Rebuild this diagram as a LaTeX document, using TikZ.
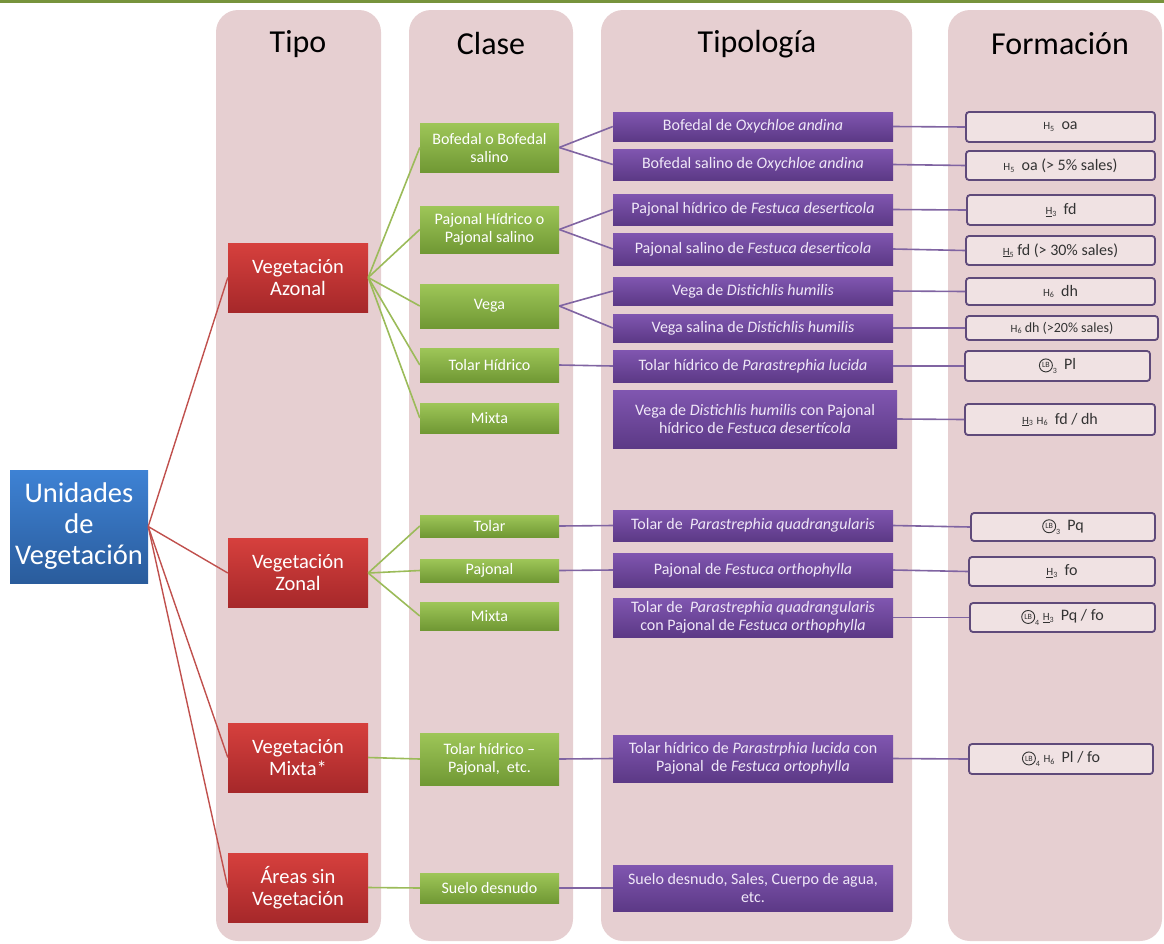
\documentclass[tikz,border=0pt]{standalone}
\usepackage{fontspec}
\setmainfont{Carlito}

\definecolor{rosa}{RGB}{230,207,209}
\definecolor{verdelinea}{RGB}{119,147,60}
\definecolor{azularriba}{RGB}{62,130,212}
\definecolor{azulabajo}{RGB}{42,92,156}
\definecolor{rojoarriba}{RGB}{214,64,61}
\definecolor{rojoabajo}{RGB}{166,40,42}
\definecolor{verdearriba}{RGB}{158,198,88}
\definecolor{verdeabajo}{RGB}{112,152,52}
\definecolor{moradoarriba}{RGB}{128,86,176}
\definecolor{moradoabajo}{RGB}{92,57,134}
\definecolor{lineaRoja}{RGB}{192,80,77}
\definecolor{lineaVerde}{RGB}{155,187,89}
\definecolor{lineaMorada}{RGB}{128,100,162}
\definecolor{bordeForm}{RGB}{95,74,122}
\definecolor{textoForm}{RGB}{51,51,51}
\definecolor{textoMorado}{RGB}{240,232,248}

% simbolos de formacion
\newcommand{\hsym}[1]{{\fontsize{11}{11}\selectfont H\raisebox{-0.35ex}{\fontsize{8}{8}\selectfont #1}}}
\newcommand{\hsub}[1]{{\fontsize{11}{11}\selectfont \underline{H}\raisebox{-0.35ex}{\fontsize{8}{8}\selectfont #1}}}
\newcommand{\lbsym}[1]{\tikz[baseline=-0.5ex]\node[circle, draw=textoForm, fill=none, line width=0.9pt, rounded corners=0pt, minimum width=13pt, minimum height=13pt, inner sep=0pt, font=\fontsize{8}{8}\selectfont]{LB};\raisebox{-0.6ex}{\fontsize{8}{8}\selectfont #1}}

\begin{document}
\begin{tikzpicture}[x=1pt,y=-1pt]

  % Estilos de las cajas
  \tikzstyle{columna} = [fill=rosa, rounded corners=22pt]
  \tikzstyle{titulo} = [font=\fontsize{32}{36}\selectfont, text=black]
  \tikzstyle{raiz} = [top color=azularriba, bottom color=azulabajo, text=white, align=center, font=\fontsize{28.5}{31}\selectfont, minimum width=138pt, minimum height=113pt, inner sep=2pt]
  \tikzstyle{tipo} = [top color=rojoarriba, bottom color=rojoabajo, text=white, align=center, font=\fontsize{20.5}{22}\selectfont, minimum width=140pt, minimum height=69pt, inner sep=2pt]
  \tikzstyle{clase} = [top color=verdearriba, bottom color=verdeabajo, text=white, align=center, font=\fontsize{16}{18}\selectfont, minimum width=139pt, inner sep=1pt]
  \tikzstyle{tipologia} = [top color=moradoarriba, bottom color=moradoabajo, text=textoMorado, align=center, font=\fontsize{16}{18}\selectfont, minimum width=280pt, inner sep=1pt]
  \tikzstyle{formacion} = [draw=bordeForm, line width=1.8pt, fill=rosa!60!white, rounded corners=3pt, text=textoForm, align=center, font=\fontsize{16}{18}\selectfont, minimum width=189pt, inner sep=1pt]

  % Estilo de los conectores
  \tikzstyle{rojo} = [lineaRoja, line width=1.4pt]
  \tikzstyle{verde} = [lineaVerde, line width=1.6pt]
  \tikzstyle{morado} = [lineaMorada, line width=1.6pt]

  \useasboundingbox (0,0) rectangle (1164,943);

  % Linea superior
  \draw[line width=3, verdelinea] (0,1.5) -- (1164,1.5);

  % Columnas
  \fill[columna] (216,10) rectangle (381,941);
  \fill[columna] (409,10) rectangle (573,941);
  \fill[columna] (601,10) rectangle (912,941);
  \fill[columna] (948,10) rectangle (1162,941);

  \draw (298,44) node[titulo] (tTipo) {Tipo};
  \draw (491,44) node[titulo] (tClase) {Clase};
  \draw (757,44) node[titulo] (tTipologia) {Tipología};
  \draw (1060,44) node[titulo] (tFormacion) {Formación};

  % Raiz
  \draw (79,526.5) node[raiz] (unidades) {Unidades\\de\\Vegetación};

  % Tipo
  \draw (298,277.5) node[tipo] (azonal) {Vegetación\\Azonal};
  \draw (298,573) node[tipo] (zonal) {Vegetación\\Zonal};
  \draw (298,757.5) node[tipo] (mixta) {Vegetación\\Mixta*};
  \draw (298,887.5) node[tipo] (areas) {Áreas sin\\Vegetación};

  % Clase
  \draw (489.5,147.5) node[clase, minimum height=49pt] (bofedal) {Bofedal o Bofedal\\salino};
  \draw (489.5,229.5) node[clase, minimum height=47pt] (pajonalH) {Pajonal Hídrico o\\Pajonal salino};
  \draw (489.5,306) node[clase, minimum height=44pt] (vega) {Vega};
  \draw (489.5,365) node[clase, minimum height=34pt] (tolarH) {Tolar Hídrico};
  \draw (489.5,418) node[clase, minimum height=30pt] (mixtaA) {Mixta};
  \draw (489.5,526) node[clase, minimum height=22pt] (tolar) {Tolar};
  \draw (489.5,570.5) node[clase, minimum height=23pt] (pajonal) {Pajonal};
  \draw (489.5,616) node[clase, minimum height=28pt] (mixtaZ) {Mixta};
  \draw (489.5,759) node[clase, minimum height=52pt] (tolarHP) {Tolar hídrico --\\Pajonal,\ \ etc.};
  \draw (489.5,888) node[clase, minimum height=30pt] (suelo) {Suelo desnudo};

  % Tipologia
  \draw (753,126.5) node[tipologia, minimum height=29pt] (tBofedal) {Bofedal de \textit{Oxychloe andina}};
  \draw (753,164.5) node[tipologia, minimum height=31pt] (tBofedalS) {Bofedal salino de \textit{Oxychloe andina}};
  \draw (753,209.5) node[tipologia, minimum height=31pt] (tPajonalH) {Pajonal hídrico de \textit{Festuca deserticola}};
  \draw (753,249) node[tipologia, minimum height=32pt] (tPajonalS) {Pajonal salino de \textit{Festuca deserticola}};
  \draw (753,291) node[tipologia, minimum height=28pt] (tVega) {Vega de \textit{Distichlis humilis}};
  \draw (753,328) node[tipologia, minimum height=28pt] (tVegaS) {Vega salina de \textit{Distichlis humilis}};
  \draw (753,366) node[tipologia, minimum height=32pt] (tTolarH) {Tolar hídrico de \textit{Parastrephia lucida}};
  \draw (755,419) node[tipologia, minimum height=58pt, minimum width=284pt] (tMixtaA) {Vega de \textit{Distichlis humilis} con Pajonal\\hídrico de \textit{Festuca desertícola}};
  \draw (753,525.5) node[tipologia, minimum height=31pt] (tTolar) {Tolar de\ \ \textit{Parastrephia quadrangularis}};
  \draw (753,570) node[tipologia, minimum height=34pt] (tPajonal) {Pajonal de \textit{Festuca orthophylla}};
  \draw (753,617.5) node[tipologia, minimum height=39pt] (tMixtaZ) {Tolar de\ \ \textit{Parastrephia quadrangularis}\\con Pajonal de \textit{Festuca orthophylla}};
  \draw (753,758.5) node[tipologia, minimum height=47pt] (tTolarHP) {Tolar hídrico de \textit{Parastrphia lucida} con\\Pajonal\ \ de \textit{Festuca ortophylla}};
  \draw (753,888) node[tipologia, minimum height=46pt] (tSuelo) {Suelo desnudo, Sales, Cuerpo de agua,\\etc.};

  % Formacion
  \draw (1060.5,127) node[formacion, minimum height=30pt] (fBofedal) {\hsym{5}\ \ oa};
  \draw (1060.5,165.5) node[formacion, minimum height=29pt] (fBofedalS) {\hsym{5}\ \ oa (> 5\% sales)};
  \draw (1061,210) node[formacion, minimum height=30pt, minimum width=188pt] (fPajonalH) {\hsub{3}\ \ fd};
  \draw (1060.5,250.5) node[formacion, minimum height=29pt] (fPajonalS) {\hsub{5}\ fd (> 30\% sales)};
  \draw (1060.5,291.5) node[formacion, minimum height=27pt] (fVega) {\hsym{6}\ \ dh};
  \draw (1062,328) node[formacion, minimum height=24pt, minimum width=192pt, font=\fontsize{14}{16}\selectfont] (fVegaS) {\hsym{6} dh (>20\% sales)};
  \draw (1057.5,366) node[formacion, minimum height=30pt, minimum width=185pt] (fTolarH) {\lbsym{3}\ \ Pl};
  \draw (1060,419.5) node[formacion, minimum height=31pt, minimum width=190pt] (fMixtaA) {\hsub{3}\ \hsym{6}\ \ fd / dh};
  \draw (1063,527) node[formacion, minimum height=28pt, minimum width=184pt] (fTolar) {\lbsym{3}\ \ Pq};
  \draw (1062,571.5) node[formacion, minimum height=29pt, minimum width=186pt] (fPajonal) {\hsub{3}\ \ fo};
  \draw (1062.5,617.5) node[formacion, minimum height=29pt, minimum width=185pt] (fMixtaZ) {\lbsym{4}\ \hsub{3}\ \ Pq / fo};
  \draw (1061,759) node[formacion, minimum height=30pt, minimum width=184pt] (fTolarHP) {\lbsym{4}\ \hsym{6}\ \ Pl / fo};

  % Conectores raiz - tipo
  \draw[rojo] (unidades.east) -- (azonal.west);
  \draw[rojo] (unidades.east) -- (zonal.west);
  \draw[rojo] (unidades.east) -- (mixta.west);
  \draw[rojo] (unidades.east) -- (areas.west);

  % Conectores tipo - clase
  \foreach \c in {bofedal, pajonalH, vega, tolarH, mixtaA}
    \draw[verde] (azonal.east) -- (\c.west);
  \foreach \c in {tolar, pajonal, mixtaZ}
    \draw[verde] (zonal.east) -- (\c.west);
  \draw[verde] (mixta.east) -- (tolarHP.west);
  \draw[verde] (areas.east) -- (suelo.west);

  % Conectores clase - tipologia
  \draw[morado] (bofedal.east) -- (tBofedal.west);
  \draw[morado] (bofedal.east) -- (tBofedalS.west);
  \draw[morado] (pajonalH.east) -- (tPajonalH.west);
  \draw[morado] (pajonalH.east) -- (tPajonalS.west);
  \draw[morado] (vega.east) -- (tVega.west);
  \draw[morado] (vega.east) -- (tVegaS.west);
  \draw[morado] (tolarH.east) -- (tTolarH.west);
  \draw[morado] (tolar.east) -- (tTolar.west);
  \draw[morado] (pajonal.east) -- (tPajonal.west);
  \draw[morado] (tolarHP.east) -- (tTolarHP.west);
  \draw[morado] (suelo.east) -- (tSuelo.west);

  % Conectores tipologia - formacion
  \foreach \t in {Bofedal, BofedalS, PajonalH, PajonalS, Vega, VegaS, TolarH, MixtaA, Tolar, Pajonal, MixtaZ, TolarHP}
    \draw[morado] (t\t.east) -- (f\t.west);

\end{tikzpicture}
\end{document}
